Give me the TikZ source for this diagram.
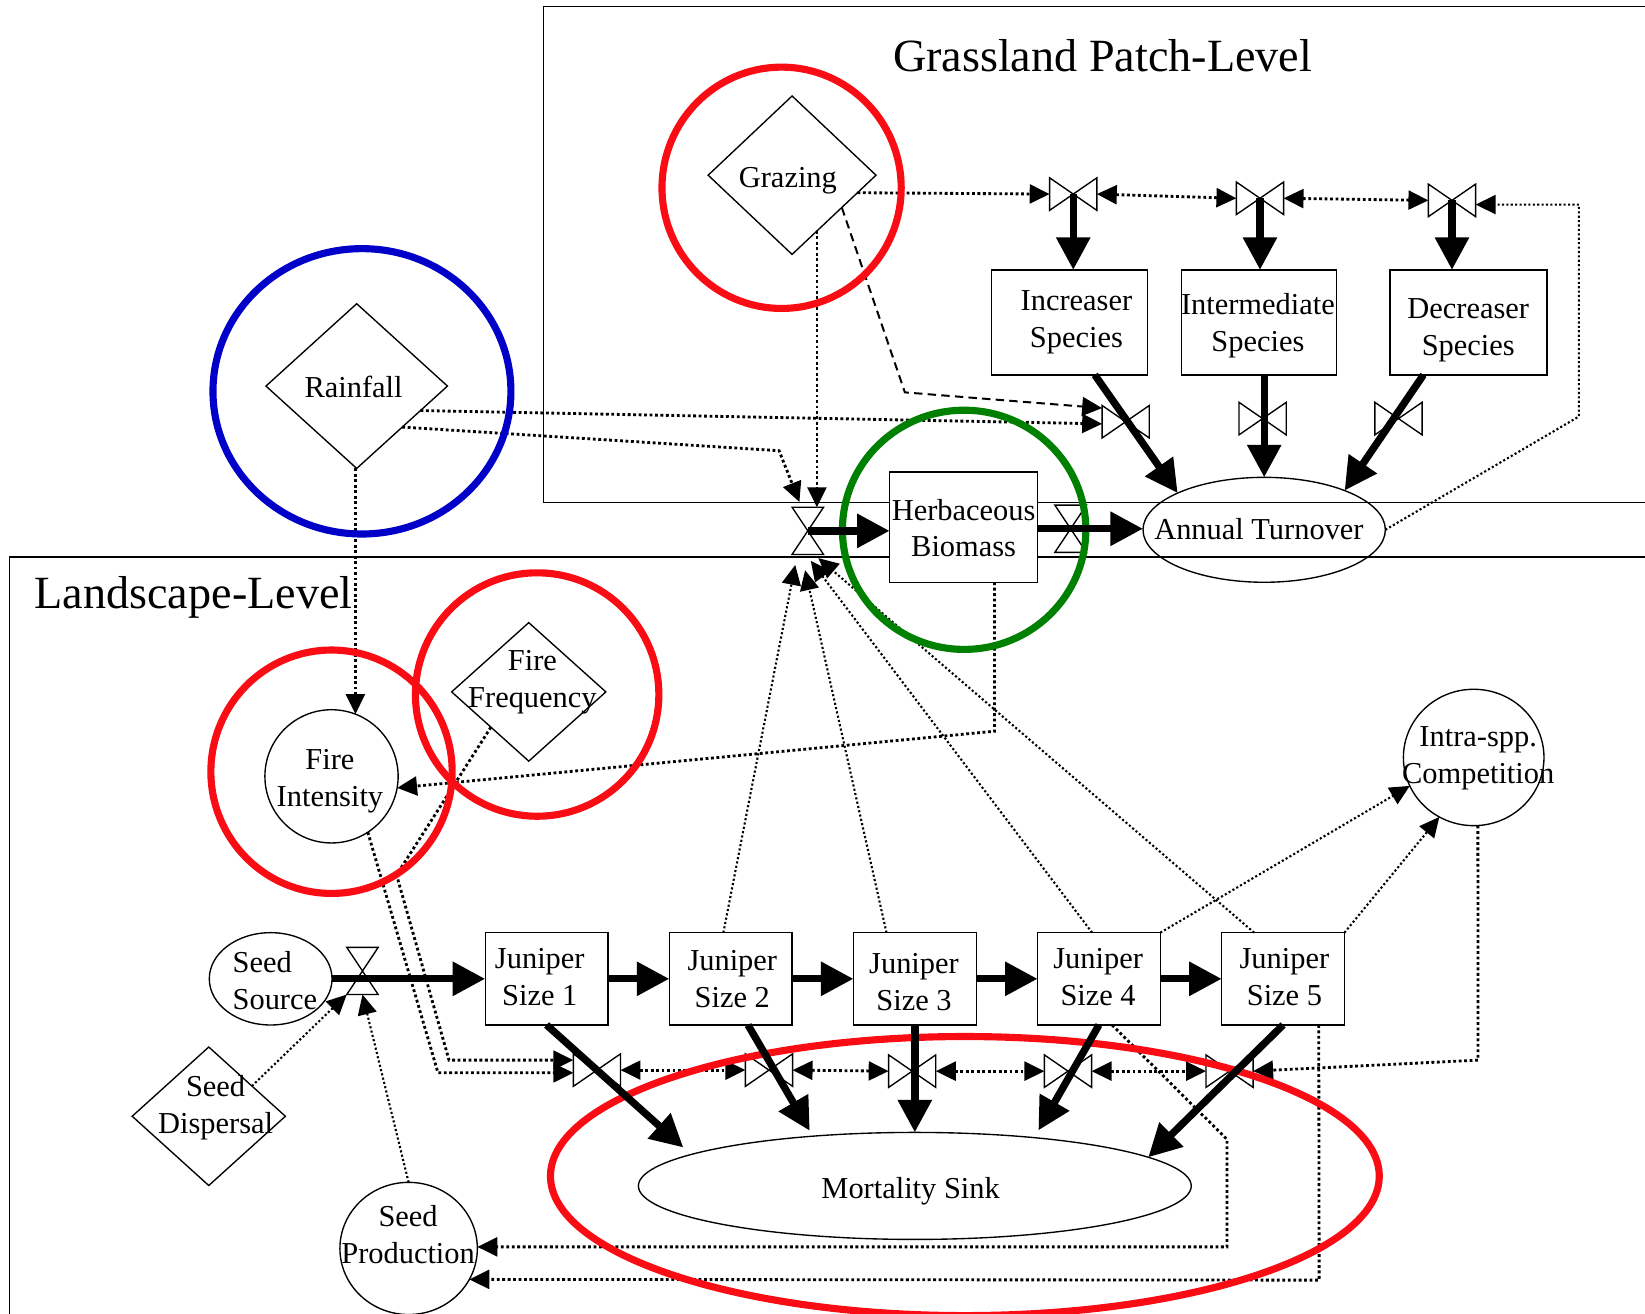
\documentclass[tikz,border=0pt]{standalone}
\usepackage{fontspec}
\setmainfont{Liberation Serif}
\usetikzlibrary{shapes.geometric,arrows.meta}
\definecolor{ringred}{RGB}{250,12,20}
\definecolor{ringblue}{RGB}{0,0,200}
\definecolor{ringgreen}{RGB}{0,128,0}
\newcommand\labelfont{\fontsize{29}{35}\selectfont}
\newcommand\headfont{\fontsize{44}{50}\selectfont}
% horizontal valve (bow tie) and vertical valve (hour glass)
\newcommand\hvalve[2]{%
  \node[valvebox, minimum width=45pt, minimum height=31pt] (#1) at #2 {};
  \draw[valveline] (#1.north west) -- (#1.south west) -- (#1.north east)
    -- (#1.south east) -- cycle;}
\newcommand\vvalve[2]{%
  \node[valvebox, minimum width=30pt, minimum height=45pt] (#1) at #2 {};
  \draw[valveline] (#1.north west) -- (#1.north east) -- (#1.south west)
    -- (#1.south east) -- cycle;}
\begin{document}
\begin{tikzpicture}[x=1pt, y=-1pt,
  every node/.style={inner sep=0pt, outer sep=0pt},
  shapeline/.style={draw, line width=1.3pt, fill=white},
  box/.style={shapeline, rectangle},
  oval/.style={shapeline, ellipse},
  dia/.style={shapeline, diamond},
  lbl/.style={font=\labelfont, align=center},
  valvebox/.style={rectangle},
  valveline/.style={line width=1.3pt, fill=white},
  framerule/.style={line width=1.5pt},
  flow/.style={line width=7pt, arrows={-Triangle[length=31pt,width=31pt]}},
  dotline/.style={line width=2.7pt, dash pattern=on 2.7pt off 2.5pt},
  thindotline/.style={line width=2pt, dash pattern=on 2pt off 2.2pt},
  dashline/.style={line width=1.9pt, dash pattern=on 8pt off 5pt},
  headend/.style={arrows={-Triangle[length=19pt,width=18pt]}},
  headboth/.style={arrows={Triangle[length=19pt,width=18pt]-Triangle[length=19pt,width=18pt]}},
  hiring/.style={line width=6.8pt}
]
\useasboundingbox (0,0) rectangle (1568,1252);
\begin{scope}
\clip (0,0) rectangle (1568,1252);

% level frames
\draw[framerule] (1580,6) -- (518,6) -- (518,479) -- (1580,479);
\draw[framerule] (1580,531) -- (9,531) -- (9,1260);
\node[font=\headfont] (title-grass) at (1051,53) {Grassland Patch-Level};
\node[font=\headfont, anchor=west] (title-land) at (33,569) {Landscape-Level};

% grassland patch-level stocks and drivers
\node[dia, minimum width=160pt, minimum height=151pt] (grazing) at (755,167) {};
\node[dia, minimum width=173pt, minimum height=157pt] (rainfall) at (340,368) {};
\node[box, minimum width=141pt, minimum height=105pt] (herb) at (918.5,502.5) {};
\node[draw, line width=1.3pt, ellipse, minimum width=231pt, minimum height=100pt] (turnover) at (1205,505) {};
\node[box, minimum width=149pt, minimum height=100pt] (incr) at (1019.5,307.3) {};
\node[box, minimum width=148pt, minimum height=100pt] (inter) at (1200,307.3) {};
\node[box, minimum width=149.5pt, minimum height=100pt] (decr) at (1399.8,307.3) {};

% landscape-level stocks and drivers
\node[oval, minimum width=127pt, minimum height=127pt] (fint) at (316,740) {};
\node[dia, minimum width=147pt, minimum height=132pt] (ffreq) at (504,659.5) {};
\node[oval, minimum width=117pt, minimum height=88pt] (ssrc) at (258,933) {};
\node[dia, minimum width=146pt, minimum height=132pt] (sdisp) at (199,1064) {};
\node[oval, minimum width=131pt, minimum height=126pt] (sprod) at (389.5,1190) {};
\node[box, minimum width=117pt, minimum height=88pt] (j1) at (521,933) {};
\node[box, minimum width=117pt, minimum height=88pt] (j2) at (696.5,933) {};
\node[box, minimum width=117pt, minimum height=88pt] (j3) at (872,933) {};
\node[box, minimum width=117pt, minimum height=88pt] (j4) at (1047.5,933) {};
\node[box, minimum width=117pt, minimum height=88pt] (j5) at (1223,933) {};
\node[oval, minimum width=527pt, minimum height=102pt] (mort) at (872,1130.4) {};
\node[oval, minimum width=134pt, minimum height=130pt] (comp) at (1404.7,722) {};

% labels
\node[lbl] (grazing-t) at (751,172) {Grazing};
\node[lbl] (rainfall-t) at (337,369) {Rainfall};
\node[lbl] (herb-t) at (918.5,503.5) {Herbaceous\\Biomass};
\node[lbl] (turnover-t) at (1200,504.5) {Annual Turnover};
\node[lbl] (incr-t) at (1026,307.3) {Increaser\\Species};
\node[lbl] (inter-t) at (1199,310.5) {Intermediate\\Species};
\node[lbl] (decr-t) at (1399.5,315) {Decreaser\\Species};
\node[lbl] (fint-t) at (314.5,744.5) {Fire\\Intensity};
\node[lbl] (ffreq-t) at (507.5,650) {Fire\\Frequency};
\node[lbl, align=left] (ssrc-t) at (262,935) {Seed\\Source};
\node[lbl] (sdisp-t) at (205.5,1056) {Seed\\Dispersal};
\node[lbl] (sprod-t) at (389,1176.5) {Seed\\Production};
\node[lbl] (mort-t) at (868,1135) {Mortality Sink};
\node[lbl] (comp-t) at (1409,722.5) {Intra-spp.\\Competition};
\node[lbl] (j1-t) at (514.5,931.6) {Juniper\\Size 1};
\node[lbl] (j2-t) at (698,933.3) {Juniper\\Size 2};
\node[lbl] (j3-t) at (871.2,935.8) {Juniper\\Size 3};
\node[lbl] (j4-t) at (1046.7,931.6) {Juniper\\Size 4};
\node[lbl] (j5-t) at (1224.3,931.6) {Juniper\\Size 5};

% flow valves
\vvalve{vh}{(770,506)}
\vvalve{vt}{(1020.5,504)}
\vvalve{vs}{(345.5,925.5)}
\hvalve{vi}{(1023,185)}
\hvalve{vm}{(1201,189)}
\hvalve{vd}{(1384,191)}
\hvalve{wi}{(1073,402)}
\hvalve{wm}{(1203.5,399)}
\hvalve{wd}{(1333,399)}
\hvalve{m1}{(569,1020)}
\hvalve{m2}{(733,1020)}
\hvalve{m3}{(869.5,1021)}
\hvalve{m4}{(1018,1021)}
\hvalve{m5}{(1172,1021)}

% grazing and species recruitment valves
\draw[dotline, headend] (grazing.-15) -- (vi.west);
\draw[dotline, headboth] (vi.east) -- (vm.west);
\draw[dotline, headboth] (vm.east) -- (vd.west);
\coordinate (tv-a) at (1505,397);
\coordinate (tv-b) at (1505,195);
\draw[thindotline, headend] (turnover.east) -- (tv-a) -- (tv-b) -- (vd.east |- tv-b);
\coordinate (gz-bend) at (862.5,374);
\draw[dashline, headend] (grazing.-33) -- (gz-bend) -- ([yshift=13pt]wi.west);
\draw[dotline, headend] (rainfall.-21) -- ([yshift=-2pt]wi.west);
\coordinate (rf-bend) at (742.6,429.6);
\draw[dotline, headend] (rainfall.-42) -- (rf-bend) -- ([xshift=7pt,yshift=5pt]vh.north west);
\draw[dotline, headend] (grazing.-66) -- (grazing.-66 |- vh.north);

% fire
\draw[dotline, headend] (fint.69 |- rainfall.south) -- (fint.69);
\coordinate (hb-bend) at (948,697);
\draw[dotline, headend] ([xshift=29.5pt]herb.south) -- (hb-bend) -- (fint.-10);
\coordinate (fi-bend) at (417.5,1022.6);
\draw[dotline, headend] (fint.-57) -- (fi-bend) -- ([yshift=-2.6pt]m1.west);
\coordinate (ff-bend1) at (378,834);
\coordinate (ff-bend2) at (428,1010.5);
\draw[dotline, headend] (ffreq.223) -- (ff-bend1) -- (ff-bend2) -- ([yshift=9.5pt]m1.west);

% mortality valve chain
\draw[dotline, headboth] (m1.east) -- (m2.west);
\draw[dotline, headboth] (m2.east) -- (m3.west);
\draw[dotline, headboth] (m3.east) -- (m4.west);
\draw[dotline, headboth] (m4.east) -- (m5.west);
\coordinate (cm-bend) at (1408.8,1010.5);
\draw[dotline, headend] ([xshift=4pt]comp.south) -- (cm-bend) -- (m5.east);

% seed production from large junipers
\coordinate (j4-a) at (1169.5,1086);
\coordinate (j4-b) at (1169.5,1188.5);
\draw[dotline, headend] ([xshift=12.5pt]j4.south) -- (j4-a) -- (j4-b) -- (j4-b -| sprod.east);
\coordinate (j5-a) at (1257.4,1220.2);
\draw[dotline, headend] ([xshift=34pt]j5.south) -- (j5-a) -- (sprod.-27.5);
\draw[thindotline, headend] (sdisp.35) -- (vs.south west);
\draw[thindotline, headend] (sprod.north) -- (vs.south);

% juniper effects on herbaceous growth and competition
\draw[thindotline, headend] ([xshift=-7pt]j2.north) -- ([xshift=-12pt,yshift=-10pt]vh.south);
\draw[thindotline, headend] ([xshift=-27pt]j3.north) -- ([xshift=-2.6pt,yshift=-15pt]vh.south);
\draw[thindotline, headend] ([xshift=-6.5pt]j4.north) -- ([xshift=2.8pt,yshift=-6pt]vh.south);
\draw[thindotline, headend] ([xshift=-27.5pt]j5.north) -- ([xshift=10pt,yshift=-3.5pt]vh.south);
\draw[thindotline, headend] (j4.north east) -- (comp.204);
\draw[thindotline, headend] (j5.north east) -- (comp.240);

% highlight rings
\draw[hiring, ringred] (745,179) ellipse [x radius=114pt, y radius=115pt];
\draw[hiring, ringblue] (345,373) ellipse [x radius=142pt, y radius=136pt];
\draw[hiring, ringgreen] (919,505) ellipse [x radius=116pt, y radius=114pt];
\draw[hiring, ringred] (316,735.6) ellipse [x radius=115pt, y radius=116pt];
\draw[hiring, ringred] (512,662) ellipse [x radius=116pt, y radius=116pt];
\draw[hiring, ringred] (919.7,1121) ellipse [x radius=395pt, y radius=133pt];

% material flows
\draw[flow] (vh.center) -- (vh.center -| herb.west);
\draw[flow] (herb.east |- vt.center) -- (turnover.west |- vt.center);
\draw[flow] (vi.center) -- (vi.center |- incr.north);
\draw[flow] (vm.center) -- (vm.center |- inter.north);
\draw[flow] (vd.center) -- (vd.center |- decr.north);
\draw[flow] ([xshift=24pt]incr.south) -- (turnover.157);
\draw[flow] (turnover.north |- inter.south) -- (turnover.north);
\draw[flow] ([xshift=-43pt]decr.south) -- (turnover.26);
\draw[flow] (ssrc.east) -- (j1.west);
\draw[flow] (j1.east) -- (j2.west);
\draw[flow] (j2.east) -- (j3.west);
\draw[flow] (j3.east) -- (j4.west);
\draw[flow] (j4.east) -- (j5.west);
\draw[flow, shorten >=10pt] (j1.south) -- (mort.172);
\draw[flow, shorten >=6pt] ([xshift=16.5pt]j2.south) -- (mort.154.5);
\draw[flow] (j3.south) -- (mort.north);
\draw[flow, shorten >=8pt] (j4.south) -- (mort.22.3);
\draw[flow] (j5.south) -- (mort.7);
\end{scope}
\end{tikzpicture}
\end{document}
